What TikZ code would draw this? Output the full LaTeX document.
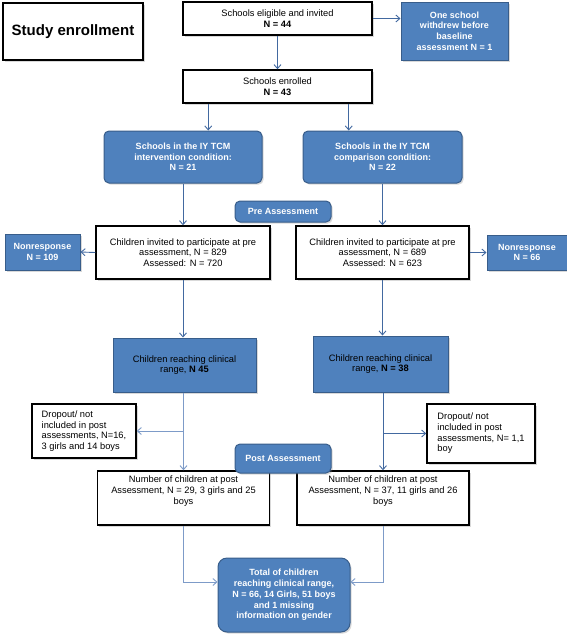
\documentclass[tikz,border=0pt]{standalone}
\usepackage{fontspec}
\setmainfont{Liberation Sans}
\usetikzlibrary{shadows,arrows.meta}

\definecolor{boxblue}{RGB}{79,129,189}
\definecolor{edgeblue}{RGB}{56,93,138}
\definecolor{linkblue}{RGB}{66,105,160}
\definecolor{paleblue}{RGB}{125,155,200}

\tikzset{
  shade/.style={drop shadow={opacity=0.3,shadow xshift=1.6pt,shadow yshift=-1.6pt}},
  whitebox/.style={draw=black,line width=1.5pt,fill=white,shade,inner sep=0pt,
    align=center,font=\fontsize{9.3}{10.7}\selectfont},
  bluebox/.style={draw=edgeblue,line width=1pt,fill=boxblue,shade,inner sep=0pt,
    align=center,text=white,font=\fontsize{9}{10.7}\selectfont\bfseries},
  bluetag/.style={bluebox,rounded corners=5pt},
  link/.style={draw=linkblue,line width=0.9pt,-{Straight Barb[length=4pt,width=7pt]}},
  palelink/.style={link,draw=paleblue}
}

\begin{document}
\begin{tikzpicture}[x=1pt,y=-1pt]
  \useasboundingbox (0,0) rectangle (567,638);
  % title
  \node[whitebox,minimum width=140,minimum height=57,font=\fontsize{15}{17}\selectfont\bfseries]
    (title) at (73,31.5) {Study enrollment};
  % schools
  \node[whitebox,minimum width=189,minimum height=33] (eligible) at (277.5,18.5)
    {Schools eligible and invited\\\textbf{N = 44}};
  \node[bluebox,minimum width=107,minimum height=58] (withdrew) at (454.5,31)
    {One school\\withdrew before\\baseline\\assessment N = 1};
  \node[whitebox,minimum width=189,minimum height=33] (enrolled) at (277.5,86.5)
    {Schools enrolled\\\textbf{N = 43}};
  \node[bluetag,minimum width=158,minimum height=52] (interv) at (183,157)
    {Schools in the IY TCM\\intervention condition:\\N = 21};
  \node[bluetag,minimum width=159,minimum height=52] (compar) at (382.5,157)
    {Schools in the IY TCM\\comparison condition:\\N = 22};
  % pre assessment
  \node[whitebox,minimum width=174,minimum height=53] (inviteL) at (183,252.5)
    {Children invited to participate at pre\\assessment, N = 829\\Assessed: N = 720};
  \node[whitebox,minimum width=173,minimum height=53] (inviteR) at (382.5,252.5)
    {Children invited to participate at pre\\assessment, N = 689\\Assessed: N = 623};
  \node[bluebox,minimum width=75,minimum height=36] (nonrespL) at (42.5,252)
    {Nonresponse\\N = 109};
  \node[bluebox,minimum width=80,minimum height=35] (nonrespR) at (527,252.5)
    {Nonresponse\\N = 66};
  \node[bluetag,minimum width=96,minimum height=21] (prelabel) at (283,211.5) {Pre Assessment};
  % clinical range
  \node[bluebox,minimum width=143,minimum height=54,text=black,font=\fontsize{9.3}{10.7}\selectfont]
    (clinL) at (184.5,365) {Children reaching clinical\\range, \textbf{N 45}};
  \node[bluebox,minimum width=135,minimum height=56,text=black,font=\fontsize{9.3}{10.7}\selectfont]
    (clinR) at (380.5,364) {Children reaching clinical\\range, \textbf{N = 38}};
  \node[whitebox,minimum width=104,minimum height=54,align=left] (dropL) at (84,431)
    {Dropout/ not\\included in post\\assessments, N=16,\\3 girls and 14 boys};
  \node[whitebox,minimum width=108,minimum height=59,align=left] (dropR) at (481,433.5)
    {Dropout/ not\\included in post\\assessments, N= 1,1\\boy};
  % post assessment
  \node[whitebox,minimum width=172,minimum height=54] (numL) at (183.5,498)
    {Number of children at post\\Assessment, N = 29, 3 girls and 25\\boys\\[5pt]};
  \node[whitebox,minimum width=172,minimum height=54] (numR) at (383,498)
    {Number of children at post\\Assessment, N = 37, 11 girls and 26\\boys\\[5pt]};
  \node[bluetag,minimum width=96,minimum height=29] (postlabel) at (283,458.5) {Post Assessment};
  \node[bluetag,rounded corners=9pt,minimum width=132,minimum height=74] (total) at (284,595)
    {Total of children\\reaching clinical range,\\N = 66, 14 Girls, 51 boys\\and 1 missing\\information on gender};

  % connectors
  \draw[link] (eligible.east) -- (eligible.east -| withdrew.west);
  \draw[link] (eligible.south) -- (enrolled.north);
  \draw[link] ([xshift=26pt]enrolled.south west) -- ([xshift=26pt]enrolled.south west |- interv.north);
  \draw[link] ([xshift=-24pt]enrolled.south east) -- ([xshift=-24pt]enrolled.south east |- compar.north);
  \draw[link] (interv.south) -- (inviteL.north);
  \draw[link] (compar.south) -- (inviteR.north);
  \draw[link] (inviteL.west) -- (nonrespL.east);
  \draw[link] (inviteR.east) -- (nonrespR.west);
  \draw[link] (inviteL.south) -- (inviteL.south |- clinL.north);
  \draw[link] (inviteR.south) -- (inviteR.south |- clinR.north);
  \draw[palelink] (numL.north |- clinL.south) -- (numL.north);
  \draw[palelink] (numL.north |- clinL.south) |- (dropL.east);
  \draw[link] (numR.north |- clinR.south) -- (numR.north);
  \draw[link] (numR.north |- clinR.south) |- (dropR.west);
  \draw[palelink] (numL.south) |- ([yshift=13pt]total.west);
  \draw[palelink] (numR.south) |- ([yshift=13pt]total.east);
\end{tikzpicture}
\end{document}
